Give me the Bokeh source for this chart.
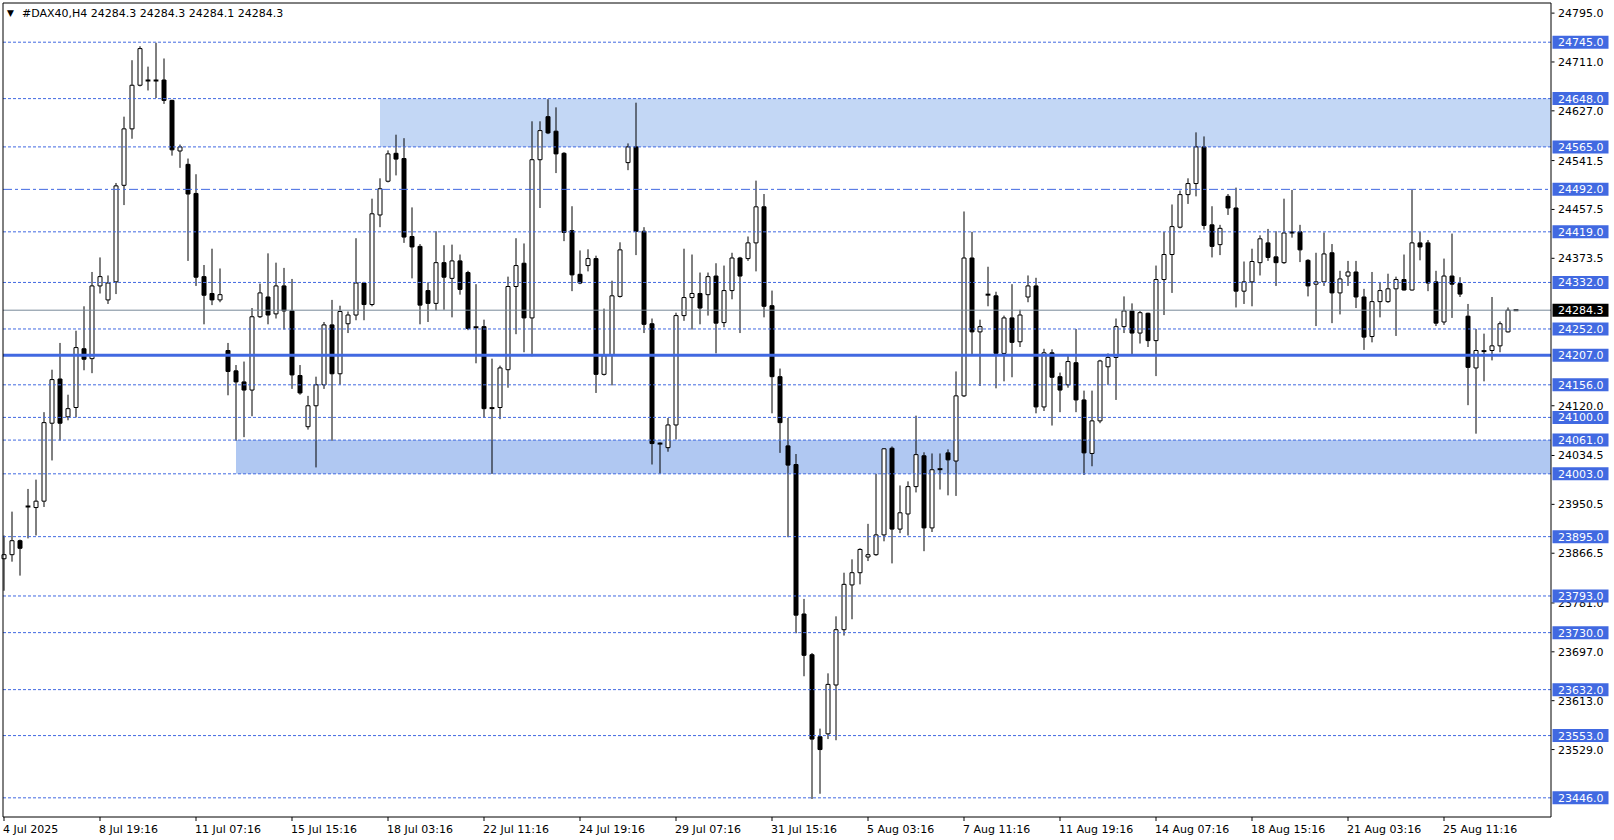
import numpy as np
from bokeh.plotting import figure
from bokeh.models import Range1d
from bokeh.core.properties import value
from bokeh.embed import file_html
from bokeh.resources import INLINE

# ---------------- data ----------------
symbol = "#DAX40,H4"
last_ohlc = [24284.3, 24284.3, 24284.1, 24284.3]

open_ = [23857, 23864, 23888, 23947, 23945, 23956, 24090, 24166, 24101, 24117,
         24218, 24201, 24326, 24302, 24333, 24499, 24596, 24671, 24679, 24679,
         24680, 24645, 24558, 24535, 24485, 24342, 24313, 24302, 24215, 24180,
         24161, 24147, 24273, 24307, 24278, 24326, 24283, 24172, 24084, 24120,
         24156, 24259, 24175, 24261, 24276, 24331, 24294, 24448, 24506, 24554,
         24545, 24411, 24394, 24318, 24296, 24366, 24339, 24369, 24349, 24255,
         24256, 24116, 24117, 24182, 24325, 24365, 24271, 24543, 24617, 24592,
         24554, 24421, 24346, 24361, 24373, 24174, 24208, 24308, 24538, 24565,
         24420, 24261, 24055, 24048, 24087, 24275, 24306, 24313, 24311, 24343,
         24263, 24318, 24374, 24373, 24400, 24462, 24292, 24170, 24051, 24019,
         23762, 23692, 23551, 23556, 23640, 23735, 23812, 23833, 23860, 23864,
         23898, 24047, 23908, 23934, 23981, 24034, 23910, 24011, 24039, 24025,
         24137, 24374, 24247, 24311, 24309, 24210, 24271, 24230, 24307, 24326,
         24118, 24211, 24170, 24156, 24194, 24130, 24038, 24094, 24187, 24203,
         24256, 24283, 24245, 24279, 24232, 24337, 24380, 24427, 24483, 24502,
         24565, 24431, 24397, 24480, 24460, 24317, 24333, 24366, 24400, 24376,
         24366, 24418, 24419, 24370, 24329, 24333, 24383, 24314, 24343, 24350,
         24307, 24239, 24299, 24299, 24321, 24337, 24319, 24400, 24400, 24333,
         24264, 24343, 24330, 24274, 24185, 24214, 24215, 24223, 24247, 24284.3]

high = [23897, 23938, 23890, 23977, 23993, 24109, 24182, 24228, 24139, 24249,
        24291, 24350, 24375, 24344, 24503, 24617, 24714, 24738, 24703, 24744,
        24717, 24646, 24569, 24545, 24518, 24362, 24390, 24356, 24228, 24190,
        24196, 24288, 24330, 24382, 24366, 24357, 24338, 24190, 24137, 24170,
        24264, 24302, 24292, 24282, 24408, 24333, 24476, 24511, 24559, 24586,
        24580, 24461, 24398, 24332, 24420, 24396, 24397, 24380, 24352, 24329,
        24268, 24201, 24189, 24342, 24408, 24399, 24609, 24609, 24647, 24633,
        24556, 24463, 24387, 24389, 24378, 24287, 24335, 24401, 24571, 24641,
        24427, 24270, 24057, 24099, 24280, 24390, 24380, 24349, 24349, 24365,
        24361, 24383, 24376, 24411, 24507, 24484, 24318, 24184, 24099, 24037,
        23788, 23695, 23565, 23660, 23758, 23833, 23856, 23875, 23917, 24003,
        24047, 24050, 23983, 23990, 24103, 24040, 24038, 24038, 24045, 24179,
        24454, 24419, 24268, 24359, 24316, 24275, 24329, 24285, 24344, 24340,
        24218, 24217, 24177, 24206, 24252, 24146, 24146, 24199, 24210, 24270,
        24308, 24296, 24283, 24280, 24361, 24419, 24466, 24490, 24511, 24590,
        24583, 24463, 24431, 24484, 24495, 24368, 24390, 24413, 24424, 24420,
        24476, 24491, 24431, 24372, 24383, 24418, 24398, 24352, 24369, 24369,
        24321, 24350, 24332, 24347, 24342, 24380, 24491, 24419, 24405, 24352,
        24373, 24416, 24341, 24295, 24252, 24244, 24307, 24265, 24289, 24284.3]

low = [23802, 23852, 23828, 23892, 23897, 23946, 24026, 24060, 24095, 24100,
       24181, 24176, 24313, 24295, 24312, 24465, 24579, 24669, 24662, 24649,
       24639, 24550, 24529, 24369, 24326, 24260, 24293, 24298, 24138, 24060,
       24066, 24102, 24271, 24260, 24270, 24251, 24149, 24139, 24079, 24014,
       24149, 24060, 24156, 24245, 24267, 24267, 24291, 24427, 24504, 24516,
       24400, 24339, 24260, 24264, 24284, 24285, 24272, 24311, 24250, 24193,
       24099, 24003, 24097, 24151, 24243, 24212, 24205, 24460, 24587, 24520,
       24403, 24317, 24329, 24351, 24142, 24172, 24155, 24306, 24525, 24379,
       24245, 24019, 24003, 24041, 24062, 24266, 24251, 24260, 24275, 24210,
       24255, 24303, 24245, 24369, 24351, 24272, 24107, 24039, 23894, 23729,
       23655, 23444, 23453, 23547, 23545, 23725, 23753, 23813, 23853, 23862,
       23887, 23849, 23901, 23897, 23971, 23870, 23903, 23976, 23966, 23965,
       24135, 24209, 24154, 24291, 24150, 24162, 24169, 24221, 24298, 24107,
       24111, 24086, 24109, 24151, 24109, 24001, 24016, 24090, 24156, 24130,
       24245, 24209, 24227, 24221, 24171, 24276, 24314, 24425, 24467, 24480,
       24423, 24375, 24379, 24448, 24289, 24295, 24291, 24344, 24369, 24326,
       24364, 24409, 24367, 24308, 24257, 24326, 24262, 24277, 24326, 24288,
       24216, 24229, 24272, 24297, 24240, 24318, 24318, 24370, 24317, 24257,
       24259, 24271, 24307, 24121, 24072, 24162, 24198, 24212, 24246, 24284.1]

close = [23864, 23888, 23875, 23947, 23956, 24091, 24165, 24090, 24115, 24220,
         24200, 24326, 24342, 24331, 24498, 24596, 24671, 24734, 24679, 24679,
         24645, 24560, 24565, 24484, 24341, 24310, 24302, 24311, 24179, 24161,
         24147, 24273, 24314, 24276, 24326, 24283, 24173, 24142, 24120, 24156,
         24259, 24175, 24282, 24276, 24331, 24294, 24450, 24493, 24553, 24544,
         24410, 24393, 24293, 24296, 24366, 24341, 24369, 24320, 24253, 24255,
         24115, 24116, 24185, 24325, 24361, 24271, 24543, 24593, 24589, 24553,
         24418, 24345, 24331, 24373, 24174, 24206, 24309, 24388, 24565, 24420,
         24260, 24055, 24055, 24087, 24275, 24306, 24313, 24288, 24342, 24262,
         24318, 24374, 24343, 24400, 24462, 24291, 24170, 24091, 24018, 23760,
         23691, 23547, 23529, 23641, 23735, 23813, 23833, 23873, 23864, 23898,
         24046, 23908, 23936, 23981, 24036, 23910, 24010, 24011, 24027, 24137,
         24374, 24247, 24256, 24311, 24210, 24271, 24229, 24276, 24326, 24118,
         24211, 24169, 24147, 24196, 24130, 24039, 24094, 24197, 24203, 24256,
         24283, 24245, 24280, 24232, 24337, 24380, 24428, 24483, 24502, 24565,
         24430, 24394, 24425, 24460, 24317, 24333, 24368, 24407, 24375, 24366,
         24417, 24418, 24388, 24326, 24333, 24381, 24314, 24338, 24350, 24307,
         24238, 24299, 24318, 24321, 24337, 24319, 24400, 24393, 24331, 24262,
         24343, 24329, 24312, 24186, 24215, 24214, 24223, 24261, 24284.3, 24284.3]

tick_bars = [0, 12, 24, 36, 48, 60, 72, 84, 96, 108, 120, 132, 144, 156, 168, 180]
tick_labels = ["4 Jul 2025", "8 Jul 19:16", "11 Jul 07:16", "15 Jul 15:16",
               "18 Jul 03:16", "22 Jul 11:16", "24 Jul 19:16", "29 Jul 07:16",
               "31 Jul 15:16", "5 Aug 03:16", "7 Aug 11:16", "11 Aug 19:16",
               "14 Aug 07:16", "18 Aug 15:16", "21 Aug 03:16", "25 Aug 11:16"]

price_ticks = [24795.0, 24711.0, 24627.0, 24541.5, 24457.5, 24373.5, 24120.0,
               24034.5, 23950.5, 23866.5, 23781.0, 23697.0, 23613.0, 23529.0]

levels = [24745.0, 24648.0, 24565.0, 24492.0, 24419.0, 24332.0, 24252.0, 24207.0,
          24156.0, 24100.0, 24061.0, 24003.0, 23895.0, 23793.0, 23730.0, 23632.0,
          23553.0, 23446.0]
key_level = 24207.0      # drawn solid
pivot_level = 24492.0    # drawn dash-dot

zone_bottom = [24565.0, 24003.0]
zone_top = [24648.0, 24061.0]
zone_start_bar = [47, 29]

# ---------------- layout (pixel geometry -> data units) ----------------
FONT = "DejaVu Sans"
W, H = 1614, 840
BAR_PX = 8.0          # pixels per bar
BAR0_PX = 3.5         # page x of bar 0
PX_PER_PT = 0.5817    # pixels per index point
REF_PRICE, REF_PX = 24745.0, 41.7

def xs(px):  # page x -> bar units
    return (px - BAR0_PX) / BAR_PX

def ys(py):  # page y -> price units
    return REF_PRICE - (py - REF_PX) / PX_PER_PT

x_lo, x_hi = xs(0), xs(W)
y_lo, y_hi = ys(H), ys(0)
ch_left, ch_right = xs(2.5), xs(1550.5)
ch_top, ch_bot = ys(2.5), ys(816.5)

BLUE = "#4169E1"
GREY = "#778899"

p = figure(width=W, height=H, output_backend="svg", toolbar_location=None,
           x_range=Range1d(x_lo, x_hi), y_range=Range1d(y_lo, y_hi),
           x_axis_type=None, y_axis_type=None,
           min_border_left=0, min_border_right=0, min_border_top=0, min_border_bottom=0,
           background_fill_color="white", border_fill_color="white")
p.grid.visible = False
p.outline_line_color = None

# zones (background rectangles)
p.quad(left=zone_start_bar, right=[ch_right] * len(zone_start_bar),
       bottom=zone_bottom, top=zone_top,
       fill_color=["#C3D7F5", "#B0C8F2"], line_color=None)

# candles
idx = np.arange(len(close))
o = np.array(open_, dtype=float)
c = np.array(close, dtype=float)
hi = np.array(high, dtype=float)
lo = np.array(low, dtype=float)
up = c > o
dn = c < o
fl = c == o

p.segment(x0=idx, y0=lo, x1=idx, y1=hi, line_color="black", line_width=1)
p.vbar(x=idx[up], bottom=o[up], top=c[up], width=0.5,
       fill_color="white", line_color="black", line_width=1)
p.vbar(x=idx[dn], bottom=c[dn], top=o[dn], width=0.5,
       fill_color="black", line_color="black", line_width=1)
p.segment(x0=idx[fl] - 0.3, y0=o[fl], x1=idx[fl] + 0.3, y1=o[fl],
          line_color="black", line_width=2)

# horizontal levels
lv = np.array(levels)
dotted = lv[(lv != key_level) & (lv != pivot_level)]
p.segment(x0=[ch_left] * len(dotted), x1=[ch_right] * len(dotted), y0=dotted, y1=dotted,
          line_color=BLUE, line_width=1, line_dash="3 2")
p.segment(x0=[ch_left], x1=[ch_right], y0=[pivot_level], y1=[pivot_level],
          line_color=BLUE, line_width=1, line_dash="9 3 3 3")
p.segment(x0=[ch_left], x1=[ch_right], y0=[key_level], y1=[key_level],
          line_color=BLUE, line_width=3)
last_price = last_ohlc[3]
p.segment(x0=[ch_left], x1=[ch_right], y0=[last_price], y1=[last_price],
          line_color=GREY, line_width=1)

# chart border
p.quad(left=[ch_left], right=[ch_right], bottom=[ch_bot], top=[ch_top],
       fill_color=None, line_color="black", line_width=1)

# price scale: ticks and labels
pt = np.array(price_ticks)
p.segment(x0=[xs(1551)] * len(pt), x1=[xs(1554)] * len(pt), y0=pt, y1=pt,
          line_color="black", line_width=1)
p.text(x=[xs(1557.5)] * len(pt), y=pt, text=[f"{v:.1f}" for v in price_ticks],
       text_font=value(FONT), text_font_size=value("11px"), text_color="black",
       text_baseline="middle", text_align="left")

# level labels (blue boxes) and current price (black box)
box_half = 6.5 / PX_PER_PT
p.quad(left=[xs(1552)] * len(lv), right=[xs(1608)] * len(lv),
       bottom=lv - box_half, top=lv + box_half, fill_color=BLUE, line_color=None)
p.text(x=[xs(1557.5)] * len(lv), y=lv, text=[f"{v:.1f}" for v in levels],
       text_font=value(FONT), text_font_size=value("11px"), text_color="white",
       text_baseline="middle", text_align="left")
p.quad(left=[xs(1552)], right=[xs(1608)], bottom=[last_price - box_half],
       top=[last_price + box_half], fill_color="black", line_color=None)
p.text(x=[xs(1557.5)], y=[last_price], text=[f"{last_price:.1f}"],
       text_font=value(FONT), text_font_size=value("11px"), text_color="white",
       text_baseline="middle", text_align="left")

# time scale: ticks and labels
tb = np.array(tick_bars, dtype=float)
p.segment(x0=tb, x1=tb, y0=[ch_bot] * len(tb), y1=[ys(820.5)] * len(tb),
          line_color="black", line_width=1)
p.text(x=tb - 1.0 / BAR_PX, y=[ys(828.5)] * len(tb), text=tick_labels,
       text_font=value(FONT), text_font_size=value("11px"), text_color="black",
       text_baseline="middle", text_align="left")

# header
head_txt = symbol + "  " + " ".join(f"{v:.1f}" for v in last_ohlc)
p.text(x=[xs(6.5)], y=[ys(12.5)], text=["\u25BC"], text_font=value(FONT),
       text_font_size=value("9px"), text_color="black",
       text_baseline="middle", text_align="left")
p.text(x=[xs(21.5)], y=[ys(12.5)], text=[head_txt], text_font=value(FONT),
       text_font_size=value("11px"), text_color="black",
       text_baseline="middle", text_align="left")

open("out.html", "w").write(file_html(p, INLINE))
